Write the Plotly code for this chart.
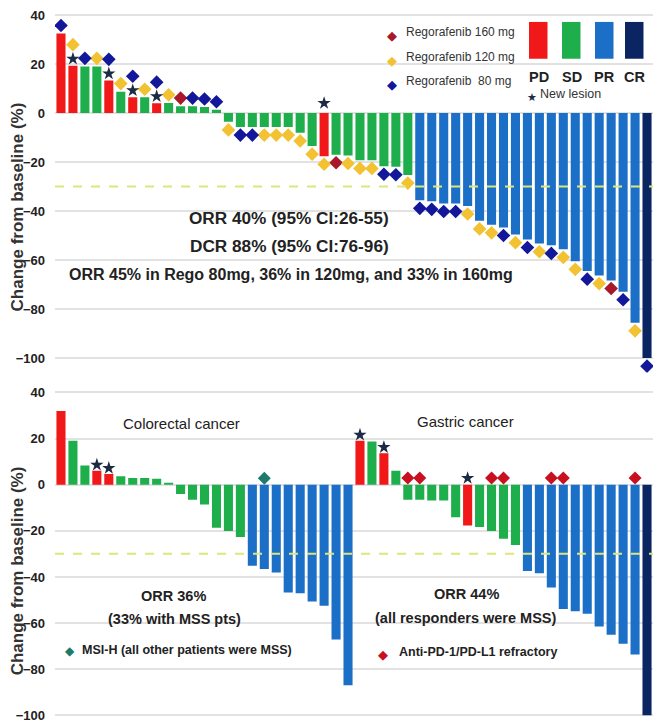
import plotly.graph_objects as go

OFF = 8                 # page offset of the figure (body margin)
W, H = 661 - OFF, 727 - OFF
ML, MR = 55 - OFF, 8

# ---------------- data: overall (top panel) ----------------
top_change = [32.4, 19.3, 19.0, 19.0, 13.3, 8.7, 6.4, 6.4, 4.0, 4.1,
              2.8, 2.8, 2.4, 1.3, -3.6, -5.7, -5.7, -5.7, -5.7, -5.7,
              -8.1, -13.5, -17.6, -17.0, -17.3, -19.3, -19.3, -21.7, -21.9, -25.3,
              -35.6, -36.0, -36.9, -36.9, -37.9, -44.0, -45.6, -46.7, -49.6, -51.6,
              -53.3, -54.0, -55.6, -60.5, -64.5, -66.3, -68.3, -72.9, -85.6, -100.0]
top_resp = (['PD', 'PD', 'SD', 'SD', 'PD', 'SD', 'PD', 'SD', 'PD', 'SD']
            + ['SD'] * 12 + ['PD'] + ['SD'] * 7 + ['PR'] * 19 + ['CR'])
top_dose = ['80', '120', '80', '120', '80', '120', '80', '120', '80', '120',
            '160', '80', '80', '80', '120', '80', '80', '120', '120', '120',
            '120', '120', '120', '160', '120', '120', '120', '80', '80', '120',
            '80', '80', '80', '80', '120', '120', '120', '80', '120', '80',
            '120', '80', '120', '120', '80', '120', '160', '80', '120', '80']
top_new_lesion = [2, 5, 7, 9, 23]          # patient numbers (1-based)

# ---------------- data: by tumour type (bottom panel) ----------------
crc_change = [31.9, 19.0, 8.3, 6.0, 4.6, 3.6, 2.9, 2.9, 2.6, 0.7,
              -4.0, -6.5, -8.6, -18.7, -20.1, -22.7, -35.2, -36.6, -38.1, -46.7,
              -47.1, -50.6, -52.5, -67.1, -86.9]
crc_resp = ['PD', 'SD', 'SD', 'PD', 'PD'] + ['SD'] * 11 + ['PR'] * 9
crc_new_lesion = [4, 5]
crc_msih = [18]

gc_change = [19.0, 18.7, 13.6, 6.0, -6.5, -6.5, -6.9, -6.9, -14.1, -17.7,
             -18.3, -20.1, -23.4, -26.2, -37.4, -38.4, -44.6, -53.9, -54.9, -56.0,
             -61.5, -65.1, -69.0, -73.6, -100.0]
gc_resp = ['PD', 'SD', 'PD'] + ['SD'] * 6 + ['PD'] + ['SD'] * 4 + ['PR'] * 10 + ['CR']
gc_new_lesion = [1, 3, 10]
gc_pd1_refractory = [5, 6, 12, 13, 17, 18, 24]

THRESHOLD = -30
y_ticks = [40, 20, 0, -20, -40, -60, -80, -100]
resp_labels = ['PD', 'SD', 'PR', 'CR']
dose_labels = ['160', '120', '80']
dose_names = ['Regorafenib 160 mg', 'Regorafenib 120 mg', 'Regorafenib\u00a0\u00a080 mg']

# ---------------- styles ----------------
RESP_COL = {'PD': '#f01818', 'SD': '#1fae4c', 'PR': '#1b6fc6', 'CR': '#0b2462'}
DOSE_COL = {'80': '#13179a', '120': '#f2c232', '160': '#a8172a'}
STAR_COL = '#1c2a44'
MSI_COL = '#1e7a6c'
PD1_COL = '#c8101e'
FONT = 'Liberation Sans, Arial, sans-serif'
TXT = '#222222'


def px(x):
    return (x - OFF - ML) / (W - ML - MR)


def py(y):
    return 1 - (y - OFF) / H


fig = go.Figure()

# ---------------- top panel ----------------
xt = list(range(len(top_change)))
fig.add_trace(go.Bar(x=xt, y=top_change, marker_color=[RESP_COL[r] for r in top_resp],
                     marker_line_width=0, xaxis='x', yaxis='y', showlegend=False))

star_idx = [i - 1 for i in top_new_lesion]
for d in dose_labels:
    xs, ys = [], []
    for i, (v, dd) in enumerate(zip(top_change, top_dose)):
        if dd != d:
            continue
        if v >= 0:
            off = 8.6 if i in star_idx else 3.3
            ys.append(v + off)
        else:
            ys.append(v - 3.3)
        xs.append(i)
    fig.add_trace(go.Scatter(x=xs, y=ys, mode='markers', xaxis='x', yaxis='y',
                             marker=dict(symbol='diamond', size=10.5, color=DOSE_COL[d]),
                             showlegend=False))

fig.add_trace(go.Scatter(
    x=star_idx,
    y=[top_change[i] + 2.8 if top_change[i] >= 0 else 4.0 for i in star_idx],
    mode='markers', xaxis='x', yaxis='y', showlegend=False,
    marker=dict(symbol='star', size=10, color=STAR_COL)))

# ---------------- bottom panel ----------------
bot_change = crc_change + gc_change
bot_resp = crc_resp + gc_resp
nc = len(crc_change)
xb = list(range(len(bot_change)))
fig.add_trace(go.Bar(x=xb, y=bot_change, marker_color=[RESP_COL[r] for r in bot_resp],
                     marker_line_width=0, xaxis='x2', yaxis='y2', showlegend=False))

bstar = [i - 1 for i in crc_new_lesion] + [nc + i - 1 for i in gc_new_lesion]
fig.add_trace(go.Scatter(
    x=bstar,
    y=[bot_change[i] + 2.6 if bot_change[i] >= 0 else 2.8 for i in bstar],
    mode='markers', xaxis='x2', yaxis='y2', showlegend=False,
    marker=dict(symbol='star', size=10, color=STAR_COL)))

msi = [i - 1 for i in crc_msih]
fig.add_trace(go.Scatter(x=msi, y=[max(bot_change[i], 0) + 2.8 for i in msi],
                         mode='markers', xaxis='x2', yaxis='y2', showlegend=False,
                         marker=dict(symbol='diamond', size=10, color=MSI_COL)))

pd1 = [nc + i - 1 for i in gc_pd1_refractory]
fig.add_trace(go.Scatter(x=pd1, y=[max(bot_change[i], 0) + 2.9 for i in pd1],
                         mode='markers', xaxis='x2', yaxis='y2', showlegend=False,
                         marker=dict(symbol='diamond', size=10, color=PD1_COL)))

# ---------------- axes ----------------
# top panel: 40 at page y 11, -100 at page y 356
t_scale = (356 - 11) / 140.0
t_top = 40 + (11 - OFF) / t_scale
t_bot = -106
t_dom_bot = 1 - ((11 + (40 - t_bot) * t_scale) - OFF) / H
# bottom panel: 0 at page y 483.3, 2.32 px / unit
b_scale = 2.32
b_top, b_bot = 42, -104
b_dom_top = 1 - (483.3 - b_top * b_scale - OFF) / H
b_dom_bot = 1 - (483.3 - b_bot * b_scale - OFF) / H

xax = dict(range=[-0.5, 49.5], showticklabels=False, showgrid=False, zeroline=False,
           showline=False, ticks='', fixedrange=True)
yax = dict(tickvals=y_ticks, showgrid=True, gridcolor='#e2e2e2', gridwidth=1.5,
           zeroline=False, showline=False, ticks='', ticklabelstandoff=9,
           ticklabeloverflow='allow',
           tickfont=dict(family=FONT, size=13, color=TXT, weight='bold'))
fig.update_layout(
    width=W, height=H, margin=dict(l=ML, r=MR, t=0, b=0),
    paper_bgcolor='white', plot_bgcolor='white', bargap=0.24,
    font=dict(family=FONT, color=TXT),
    xaxis=dict(xax, domain=[0, 1], anchor='y'),
    yaxis=dict(yax, domain=[t_dom_bot, 1], range=[t_bot, t_top], anchor='x'),
    xaxis2=dict(xax, domain=[0, 1], anchor='y2'),
    yaxis2=dict(yax, domain=[b_dom_bot, b_dom_top], range=[b_bot, b_top], anchor='x2'),
)

shapes = []
for ya, xa in (('y', 'x'), ('y2', 'x2')):
    shapes.append(dict(type='line', xref=xa + ' domain', yref=ya, x0=0, x1=1,
                       y0=THRESHOLD, y1=THRESHOLD, layer='above',
                       line=dict(color='#dbe77c', width=2, dash='dash')))
shapes.append(dict(type='rect', xref='paper', yref='paper', x0=px(373), x1=px(646),
                   y0=py(100), y1=py(OFF), fillcolor='white', line_width=0, layer='between'))
sq_left = [529, 562, 595, 625]
for lab, x0 in zip(resp_labels, sq_left):
    shapes.append(dict(type='rect', xref='paper', yref='paper', x0=px(x0), x1=px(x0 + 18.5),
                       y0=py(55), y1=py(18), fillcolor=RESP_COL[lab], line_width=0,
                       layer='above'))
fig.update_layout(shapes=shapes)

ann = []


def add_text(text, x, y, size, anchor='center', bold=False, color=TXT, family=FONT, angle=0):
    ann.append(dict(text=text, x=px(x), y=py(y), xref='paper', yref='paper',
                    xanchor=anchor, yanchor='middle', showarrow=False, textangle=angle,
                    font=dict(family=family, size=size, color=color,
                              weight='bold' if bold else 'normal')))


add_text('Change from baseline (%)', 17.5, 204, 17, bold=True, angle=-90, color='#333')
add_text('Change from baseline (%)', 17.5, 570, 17, bold=True, angle=-90, color='#333')

for d, name, yy in zip(dose_labels, dose_names, [30, 55, 79]):
    add_text('\u25c6', 392, yy + 2, 13, color=DOSE_COL[d], family='DejaVu Sans')
    add_text(name, 404, yy - 2, 12, anchor='left', color='#333')
for lab, x0 in zip(resp_labels, sq_left):
    add_text(lab, x0 + 9.5, 73, 14.5, bold=True)
add_text('\u2605', 532, 94, 11, color=STAR_COL, family='DejaVu Sans')
add_text('New lesion', 538, 90, 12.5, anchor='left', color='#333')

add_text('ORR 40% (95% CI:26-55)', 289, 215, 17.2, bold=True)
add_text('DCR 88% (95% CI:76-96)', 289, 243, 17.2, bold=True)
add_text('ORR 45% in Rego 80mg, 36% in 120mg, and 33% in 160mg', 290.5, 272, 16, bold=True)

add_text('Colorectal cancer', 181, 422, 15)
add_text('Gastric cancer', 465, 420, 15)
add_text('ORR 36%', 173, 595, 14.5, bold=True)
add_text('(33% with MSS pts)', 174, 618, 14.5, bold=True)
add_text('\u25c6', 70, 651, 12, color=MSI_COL, family='DejaVu Sans')
add_text('MSI-H (all other patients were MSS)', 80, 650, 12.5, anchor='left', bold=True)
add_text('ORR 44%', 466, 593, 14.5, bold=True)
add_text('(all responders were MSS)', 465, 617, 14.5, bold=True)
add_text('\u25c6', 383, 654, 13, color=PD1_COL, family='DejaVu Sans')
add_text('Anti-PD-1/PD-L1 refractory', 397, 652, 12.5, anchor='left', bold=True)

fig.update_layout(annotations=ann)
fig.write_html('out.html')
